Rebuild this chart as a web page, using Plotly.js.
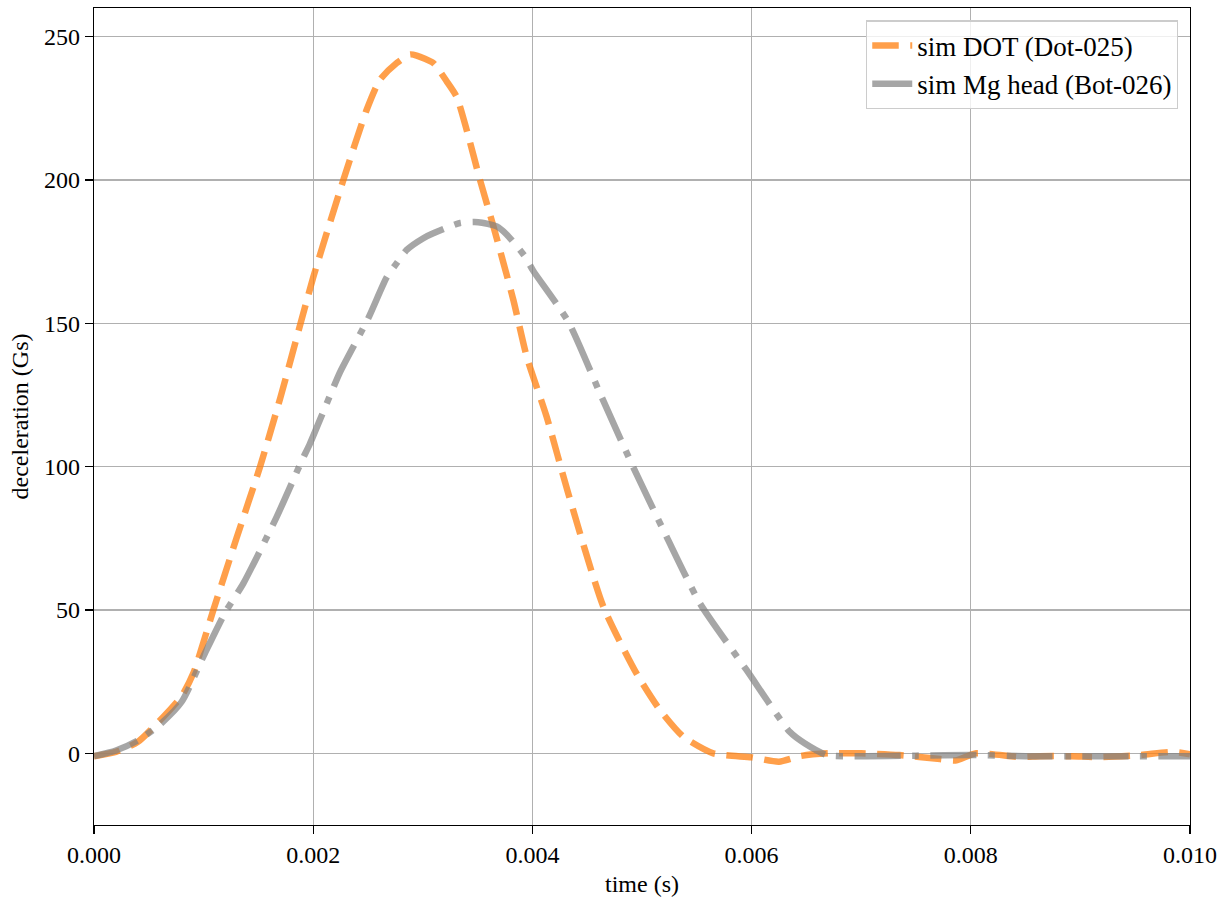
<!DOCTYPE html>
<html>
<head>
<meta charset="utf-8">
<script src="https://cdn.plot.ly/plotly-3.0.1.min.js"></script>
<style>html,body{margin:0;padding:0;background:#fff;}#chart{width:1229px;height:903px;}</style>
</head>
<body>
<div id="chart"></div>
<script>
// Series: sim DOT (Dot-025)
const timeDot = [0, 0.0002, 0.0004, 0.00063, 0.0008, 0.000906, 0.001089, 0.0013, 0.001515, 0.0017,
  0.002, 0.002275, 0.002488, 0.002609, 0.002762, 0.002883, 0.002944, 0.003096, 0.003218, 0.003309,
  0.0034, 0.003522, 0.003643, 0.003826, 0.003948, 0.00413, 0.004327, 0.004647, 0.004951, 0.005164,
  0.005377, 0.00565, 0.006, 0.00625, 0.00645, 0.0067, 0.007, 0.00735, 0.00772, 0.00786,
  0.00805, 0.00845, 0.00863, 0.00892, 0.00918, 0.00954, 0.00984, 0.01];
const accelDot = [-1, 0.5, 4, 12.6, 20, 27.9, 50, 75, 100, 124,
  166, 200, 224.5, 235, 240.8, 243.8, 243.4, 240.8, 234.4, 229,
  217.5, 200, 184, 158.2, 138.4, 117.4, 90.7, 51.2, 27.8, 15.1,
  5.8, 0, -1.4, -2.9, -0.9, 0, 0, -0.6, -2, -2.5,
  0, -1.3, -1, -1, -1.3, -0.6, 0.5, -0.3];

// Series: sim Mg head (Bot-026)
const timeMg = [0, 0.0002, 0.0004, 0.0006, 0.0008, 0.001013, 0.001195, 0.001363, 0.001667, 0.001895,
  0.00197, 0.002123, 0.002245, 0.002503, 0.00267, 0.002762, 0.002853, 0.003005, 0.003096, 0.00334,
  0.003506, 0.003674, 0.003765, 0.003932, 0.004008, 0.004327, 0.004617, 0.004906, 0.005225, 0.005529,
  0.005955, 0.00635, 0.006487, 0.006685, 0.007, 0.0075, 0.008, 0.0085, 0.009, 0.0095, 0.01];
const accelMg = [-1, 1, 4.5, 10, 18, 35, 49, 59.3, 82.5, 102,
  108, 122, 133, 151.8, 166, 171, 175.6, 179.7, 181.4, 185,
  185.3, 183.8, 181, 173.3, 168.3, 150.6, 125.6, 101, 75.5, 52.3,
  29, 7.4, 3.4, -0.6, -1, -0.8, -0.6, -1, -1, -1, -1];

const xTickVals = [0, 0.002, 0.004, 0.006, 0.008, 0.010];
const xTickText = ['0.000', '0.002', '0.004', '0.006', '0.008', '0.010'];
const yTickVals = [0, 50, 100, 150, 200, 250];

const FONT = 'Liberation Serif, DejaVu Serif, serif';
const FS = 24;

const traces = [
  {
    x: timeDot, y: accelDot, type: 'scatter', mode: 'lines',
    name: 'sim DOT (Dot-025)', legendgroup: 'a',
    line: {color: '#ff7f0e', width: 6.5, dash: '26.5px,11.5px', shape: 'spline', smoothing: 0.6},
    opacity: 0.75
  },
  {
    x: timeMg, y: accelMg, type: 'scatter', mode: 'lines',
    name: 'sim Mg head (Bot-026)', legendgroup: 'b',
    line: {color: '#808080', width: 6.5, dash: '46px,11.5px,7px,11.5px', shape: 'spline', smoothing: 0.6},
    opacity: 0.7
  }
];

const layout = {
  width: 1229, height: 903,
  margin: {l: 94, r: 39, t: 8, b: 78},
  paper_bgcolor: '#ffffff', plot_bgcolor: '#ffffff',
  font: {family: FONT, size: FS, color: '#000000'},
  showlegend: true,
  legend: {
    x: 0.989, y: 0.985, xanchor: 'right', yanchor: 'top',
    bgcolor: 'rgba(255,255,255,0.8)', bordercolor: '#cccccc', borderwidth: 1.3,
    font: {family: FONT, size: 27, color: '#000'},
    traceorder: 'grouped', tracegroupgap: 0,
    itemwidth: 40
  },
  xaxis: {
    range: [0, 0.010], tickmode: 'array', tickvals: xTickVals, ticktext: xTickText,
    showgrid: true, gridcolor: '#b0b0b0', gridwidth: 1.3,
    showline: true, linecolor: '#000', linewidth: 1.3, mirror: true,
    ticks: 'outside', ticklen: 8, tickwidth: 1.3, tickcolor: '#000',
    zeroline: false,
    tickfont: {family: FONT, size: FS, color: '#000'},
    title: {text: 'time (s)', font: {family: FONT, size: FS, color: '#000'}, standoff: 8}
  },
  yaxis: {
    range: [-25, 260], tickmode: 'array', tickvals: yTickVals,
    showgrid: true, gridcolor: '#b0b0b0', gridwidth: 1.3,
    showline: true, linecolor: '#000', linewidth: 1.3, mirror: true,
    ticks: 'outside', ticklen: 8, tickwidth: 1.3, tickcolor: '#000',
    zeroline: false,
    tickfont: {family: FONT, size: FS, color: '#000'},
    title: {text: 'deceleration (Gs)', font: {family: FONT, size: FS, color: '#000'}, standoff: 8}
  }
};

Plotly.newPlot('chart', traces, layout, {displayModeBar: false, staticPlot: true});
</script>
</body>
</html>
